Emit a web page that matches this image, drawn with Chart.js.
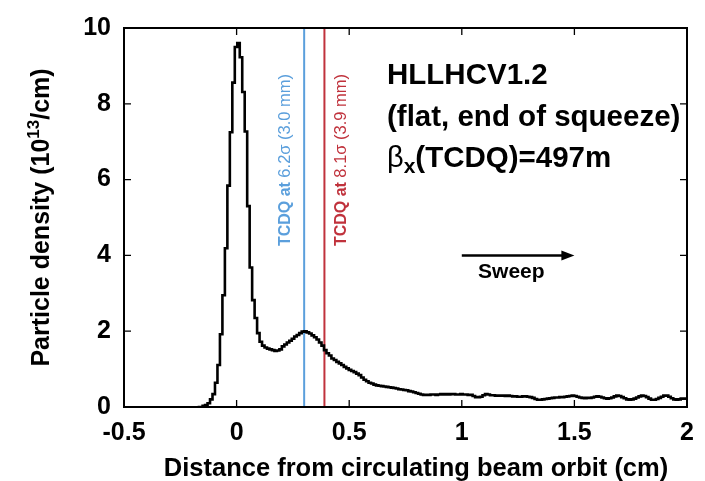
<!DOCTYPE html>
<html>
<head>
<meta charset="utf-8">
<script src="https://cdn.jsdelivr.net/npm/chart.js@4.4.0/dist/chart.umd.min.js"></script>
<style>
  html, body { margin: 0; padding: 0; background: #fff; }
</style>
</head>
<body>
<canvas id="densityChart" width="705" height="481"></canvas>
<script>
// Particle density histogram
const binStart = -0.173;   // left edge of first bin (cm)
const binWidth = 0.011;    // bin width (cm)
const density = [
  0, 0, 0.03, 0.05, 0.10, 0.20, 0.34, 0.64, 1.11, 1.92,
  2.95, 4.19, 5.84, 7.25, 8.56, 9.50, 9.60, 9.23, 8.31, 7.27,
  5.30, 3.68, 2.82, 2.35, 1.95, 1.72, 1.62, 1.57, 1.54, 1.52,
  1.50, 1.48, 1.49, 1.52, 1.60, 1.65, 1.70, 1.75, 1.80, 1.86,
  1.90, 1.95, 1.99, 2.00, 1.97, 1.94, 1.89, 1.84, 1.78, 1.70,
  1.62, 1.50, 1.42, 1.36, 1.28, 1.24, 1.19, 1.15, 1.11, 1.06,
  1.02, 0.98, 0.95, 0.92, 0.88, 0.84, 0.78, 0.72, 0.68, 0.64,
  0.62, 0.59, 0.57, 0.56, 0.55, 0.54, 0.53, 0.52, 0.51, 0.50,
  0.49, 0.47, 0.46, 0.45, 0.44, 0.42, 0.41, 0.39, 0.37, 0.35,
  0.33, 0.32, 0.32, 0.32, 0.33, 0.33, 0.32, 0.33, 0.34, 0.33,
  0.34, 0.33, 0.34, 0.34, 0.33, 0.33, 0.34, 0.33, 0.33, 0.32,
  0.32, 0.29, 0.26, 0.26, 0.27, 0.31, 0.34, 0.33, 0.31, 0.31,
  0.30, 0.30, 0.30, 0.30, 0.29, 0.30, 0.29, 0.28, 0.28, 0.27,
  0.27, 0.28, 0.28, 0.27, 0.26, 0.24, 0.21, 0.19, 0.19, 0.20,
  0.21, 0.22, 0.23, 0.24, 0.25, 0.25, 0.26, 0.26, 0.27, 0.28,
  0.29, 0.30, 0.29, 0.27, 0.25, 0.24, 0.23, 0.24, 0.24, 0.25,
  0.27, 0.28, 0.27, 0.25, 0.23, 0.22, 0.23, 0.25, 0.28, 0.30,
  0.29, 0.26, 0.23, 0.20, 0.19, 0.20, 0.22, 0.25, 0.28, 0.30,
  0.29, 0.26, 0.22, 0.19, 0.19, 0.21, 0.24, 0.27, 0.30, 0.30,
  0.27, 0.23, 0.20, 0.19, 0.20, 0.22, 0.22, 0.22
];

const xTicks = [-0.5, 0, 0.5, 1, 1.5, 2];
const xTickLabels = ['-0.5', '0', '0.5', '1', '1.5', '2'];
const yTicks = [0, 2, 4, 6, 8, 10];
const yTickLabels = ['0', '2', '4', '6', '8', '10'];

// TCDQ settings (cm)
const tcdqPos = [0.30, 0.39];
const tcdqSigma = ['6.2σ', '8.1σ'];
const tcdqMm = ['3.0 mm', '3.9 mm'];
const tcdqColors = ['#5b9fdc', '#c0323c'];

const FONT = "'Liberation Sans', Arial, Helvetica, sans-serif";
Chart.defaults.font.family = FONT;

// histogram as left-edge steps
const histPoints = density.map((v, i) => ({ x: binStart + i * binWidth, y: v }));
histPoints.push({ x: binStart + density.length * binWidth, y: density[density.length - 1] });

const tcdqSets = tcdqPos.map((p, i) => ({
  data: [{ x: p, y: 0 }, { x: p, y: 10 }],
  borderColor: tcdqColors[i],
  borderWidth: 2,
  pointRadius: 0
}));

// draw text pieces of mixed fonts side by side
function drawRuns(ctx, runs, cx, cy, align) {
  let total = 0;
  runs.forEach(r => { ctx.font = r.font; r.w = ctx.measureText(r.text).width; total += r.w; });
  let x = align === 'left' ? cx : cx - total / 2;
  runs.forEach(r => {
    ctx.font = r.font;
    ctx.fillText(r.text, x, cy + (r.dy || 0));
    x += r.w;
  });
}

const overlay = {
  id: 'overlay',
  afterDatasetsDraw(chart) {
    const { ctx, chartArea: a, scales: { x, y } } = chart;
    ctx.save();
    ctx.strokeStyle = '#000';
    ctx.fillStyle = '#000';

    // frame and inward ticks
    ctx.lineWidth = 2;
    ctx.strokeRect(a.left, a.top, a.right - a.left, a.bottom - a.top);
    ctx.lineWidth = 1.3;
    ctx.beginPath();
    xTicks.forEach(v => {
      const px = x.getPixelForValue(v);
      ctx.moveTo(px, a.bottom); ctx.lineTo(px, a.bottom - 7);
      ctx.moveTo(px, a.top); ctx.lineTo(px, a.top + 7);
    });
    yTicks.forEach(v => {
      const py = y.getPixelForValue(v);
      ctx.moveTo(a.left, py); ctx.lineTo(a.left + 7, py);
      ctx.moveTo(a.right, py); ctx.lineTo(a.right - 7, py);
    });
    ctx.stroke();

    // axis titles
    ctx.textBaseline = 'alphabetic';
    ctx.font = 'bold 25.5px ' + FONT;
    ctx.textAlign = 'center';
    ctx.fillText('Distance from circulating beam orbit (cm)', 416, 476);
    ctx.textAlign = 'left';
    ctx.save();
    ctx.translate(49, (a.top + a.bottom) / 2);
    ctx.rotate(-Math.PI / 2);
    drawRuns(ctx, [
      { text: 'Particle density (10', font: 'bold 25px ' + FONT },
      { text: '13', font: 'bold 17px ' + FONT, dy: -10 },
      { text: '/cm)', font: 'bold 25px ' + FONT }
    ], 0, 0);
    ctx.restore();

    // TCDQ labels
    const offs = [-14, 22];
    tcdqPos.forEach((p, i) => {
      ctx.save();
      ctx.fillStyle = tcdqColors[i];
      ctx.translate(x.getPixelForValue(p) + offs[i], 160);
      ctx.rotate(-Math.PI / 2);
      drawRuns(ctx, [
        { text: 'TCDQ at ', font: 'bold 16px ' + FONT },
        { text: tcdqSigma[i] + ' (' + tcdqMm[i] + ')', font: '16.5px ' + FONT }
      ], 0, 0);
      ctx.restore();
    });

    // info text
    ctx.fillStyle = '#000';
    ctx.font = 'bold 29.5px ' + FONT;
    ctx.fillText('HLLHCV1.2', 387, 84);
    ctx.fillText('(flat, end of squeeze)', 387, 126);
    drawRuns(ctx, [
      { text: 'β', font: '29px ' + FONT },
      { text: 'x', font: 'bold 21px ' + FONT, dy: 6 },
      { text: '(TCDQ)=497m', font: 'bold 29.5px ' + FONT }
    ], 387, 167, 'left');

    // sweep arrow
    const x0 = x.getPixelForValue(1.0), x1 = x.getPixelForValue(1.5), ya = y.getPixelForValue(4);
    ctx.lineWidth = 2.5;
    ctx.beginPath();
    ctx.moveTo(x0, ya); ctx.lineTo(x1 - 10, ya);
    ctx.stroke();
    ctx.beginPath();
    ctx.moveTo(x1, ya); ctx.lineTo(x1 - 13, ya - 5); ctx.lineTo(x1 - 13, ya + 5);
    ctx.closePath();
    ctx.fill();
    ctx.font = 'bold 21px ' + FONT;
    ctx.textAlign = 'center';
    ctx.fillText('Sweep', x.getPixelForValue(1.22), 278);
    ctx.restore();
  }
};

new Chart(document.getElementById('densityChart'), {
  type: 'line',
  data: {
    datasets: [{
      data: histPoints,
      stepped: true,
      borderColor: '#000',
      borderWidth: 2.6,
      pointRadius: 0,
      fill: false
    }, ...tcdqSets]
  },
  options: {
    responsive: false,
    animation: false,
    events: [],
    layout: { padding: { top: 17, right: 18, left: 0, bottom: 0 } },
    plugins: { legend: { display: false }, tooltip: { enabled: false } },
    scales: {
      x: {
        type: 'linear',
        min: -0.5,
        max: 2,
        afterBuildTicks: s => { s.ticks = xTicks.map(v => ({ value: v })); },
        afterFit: s => { s.height = 74; },
        ticks: {
          callback: (v, i) => xTickLabels[i],
          font: { size: 25, weight: 'bold' },
          color: '#000',
          padding: 11,
          maxRotation: 0,
          autoSkip: false
        },
        grid: { display: false, drawTicks: false },
        border: { display: false }
      },
      y: {
        type: 'linear',
        min: 0,
        max: 10,
        afterBuildTicks: s => { s.ticks = yTicks.map(v => ({ value: v })); },
        afterFit: s => { s.width = 124; },
        ticks: {
          callback: (v, i) => yTickLabels[i],
          font: { size: 25, weight: 'bold' },
          color: '#000',
          padding: 13
        },
        grid: { display: false, drawTicks: false },
        border: { display: false }
      }
    }
  },
  plugins: [overlay]
});
</script>
</body>
</html>
